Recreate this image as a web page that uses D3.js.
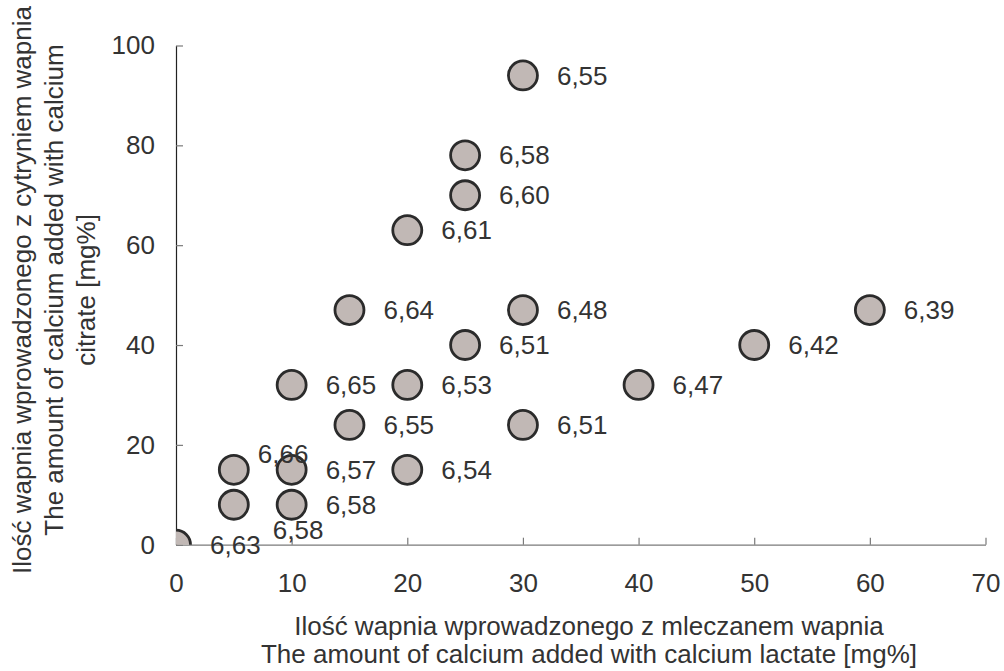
<!DOCTYPE html>
<html lang="pl">
    <head>
        <meta charset="utf-8">
        <title>Calcium lactate vs calcium citrate</title>
        <script src="https://cdn.jsdelivr.net/npm/d3@7"></script>
        <style type="text/css">
            body { margin: 0; background: #fff; }
            svg text { font-family: "Liberation Sans", Arial, Helvetica, sans-serif; fill: #333; }
        </style>
    </head>

    <body>
        <script type="text/javascript">
            // Data
            var lactate = [0, 5, 5, 10, 10, 10, 15, 15, 20, 20, 20, 25, 25, 25, 30, 30, 30, 40, 50, 60];
            var citrate = [0, 15, 8, 32, 15, 8, 47, 24, 63, 32, 15, 78, 70, 40, 94, 47, 24, 32, 40, 47];
            var phLabels = ["6,63", "6,66", "6,58", "6,65", "6,57", "6,58", "6,64", "6,55", "6,61", "6,53",
                            "6,54", "6,58", "6,60", "6,51", "6,55", "6,48", "6,51", "6,47", "6,42", "6,39"];
            var xTicks = [0, 10, 20, 30, 40, 50, 60, 70];
            var yTicks = [0, 20, 40, 60, 80, 100];
            var xTitle = ["Ilość wapnia wprowadzonego z mleczanem wapnia",
                          "The amount of calcium added with calcium lactate [mg%]"];
            var yTitle = ["Ilość wapnia wprowadzonego z cytryniem wapnia",
                          "The amount of calcium added with calcium",
                          "citrate [mg%]"];

            var w = 1004;
            var h = 671;
            var fs = "26px";
            // plot edges (note: "top" is taken by window.top, so use other names)
            var plotL = 176, plotR = 985.5, plotT = 45.5, plotB = 544.7;

            var svg = d3.select("body")
                        .append("svg")
                        .attr("width", w)
                        .attr("height", h);

            var xScale = d3.scaleLinear()
                            .domain([0, 70])
                            .range([plotL, plotR]);
            var yScale = d3.scaleLinear()
                            .domain([0, 100])
                            .range([plotB, plotT]);

            var dataset = lactate.map(function(d, i) {
                return { x: d, y: citrate[i], label: phLabels[i] };
            });

            // clip so the point at the origin is cut by the axes
            svg.append("clipPath")
                .attr("id", "plot")
                .append("rect")
                .attr("x", plotL)
                .attr("y", 0)
                .attr("width", w - plotL)
                .attr("height", plotB);

            // axes (ticks point inward)
            var xAxis = d3.axisBottom(xScale)
                            .tickValues(xTicks)
                            .tickSizeInner(-7)
                            .tickSizeOuter(0)
                            .tickPadding(29);
            var yAxis = d3.axisLeft(yScale)
                            .tickValues(yTicks)
                            .tickSizeInner(-7)
                            .tickSizeOuter(0)
                            .tickPadding(21);

            var gx = svg.append("g")
                .attr("transform", "translate(0," + plotB + ")")
                .call(xAxis);
            gx.select(".domain").attr("stroke", "#7a7a7a").attr("stroke-width", 1.2);
            gx.selectAll(".tick line").attr("stroke", "#7a7a7a").attr("stroke-width", 1.2);

            var gy = svg.append("g")
                .attr("transform", "translate(" + plotL + ",0)")
                .call(yAxis);
            gy.select(".domain").attr("stroke", "#222").attr("stroke-width", 1.2);
            gy.selectAll(".tick line").attr("stroke", "#7a7a7a").attr("stroke-width", 1.2);

            svg.selectAll(".tick text")
                .attr("font-size", fs)
                .attr("font-family", null)
                .attr("fill", "#333");

            // points
            svg.append("g")
                .attr("clip-path", "url(#plot)")
                .selectAll("circle")
                .data(dataset)
                .enter()
                .append("circle")
                .attr("cx", function(d) { return xScale(d.x); })
                .attr("cy", function(d) { return yScale(d.y); })
                .attr("r", 14.5)
                .attr("fill", "#c1b8b5")
                .attr("stroke", "#2b2b2b")
                .attr("stroke-width", 2.8);

            // labels: to the right of each point, two moved by hand in the original
            var nudge = { 1: [-10, -16], 2: [5, 25] };
            svg.append("g")
                .selectAll("text")
                .data(dataset)
                .enter()
                .append("text")
                .text(function(d) { return d.label; })
                .attr("x", function(d, i) { return xScale(d.x) + 34 + (nudge[i] ? nudge[i][0] : 0); })
                .attr("y", function(d, i) { return yScale(d.y) + (nudge[i] ? nudge[i][1] : 0); })
                .attr("dy", "0.35em")
                .attr("font-size", fs);

            // axis titles
            svg.append("text")
                .attr("text-anchor", "middle")
                .attr("font-size", fs)
                .selectAll("tspan")
                .data(xTitle)
                .enter()
                .append("tspan")
                .attr("x", 589)
                .attr("y", function(d, i) { return 635 + i * 28; })
                .text(function(d) { return d; });

            svg.append("text")
                .attr("text-anchor", "middle")
                .attr("font-size", fs)
                .attr("transform", "translate(0,290) rotate(-90)")
                .selectAll("tspan")
                .data(yTitle)
                .enter()
                .append("tspan")
                .attr("x", 0)
                .attr("y", function(d, i) { return 31 + i * 32; })
                .text(function(d) { return d; });
        </script>
    </body>
</html>
